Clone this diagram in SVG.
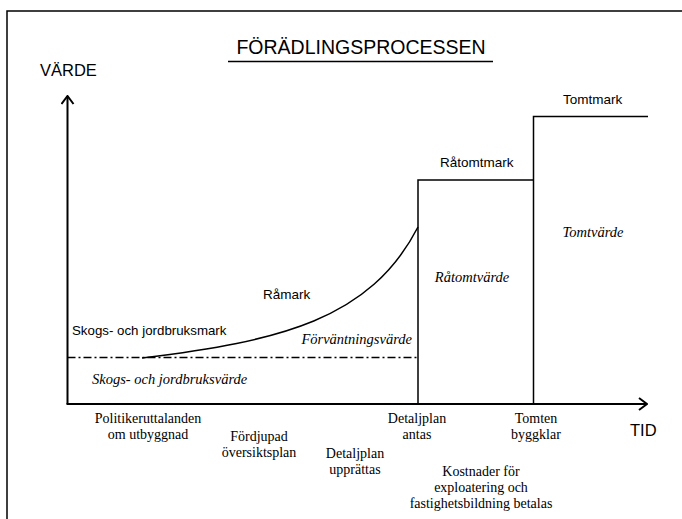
<svg xmlns="http://www.w3.org/2000/svg" width="682" height="519" viewBox="0 0 682 519">
<style>
.ln{fill:none;stroke:#000;stroke-width:1.5}
.ax{fill:none;stroke:#000;stroke-width:2}
.sans{font-family:"Liberation Sans",Arial,sans-serif;fill:#000}
.ser{font-family:"Liberation Serif","Times New Roman",serif;fill:#000;font-size:14px}
.it{font-family:"Liberation Serif","Times New Roman",serif;font-style:italic;fill:#000;font-size:14.5px}
.c{text-anchor:middle}
</style>
<defs>
<marker id="arr" viewBox="0 0 10 14" refX="9" refY="7" markerWidth="10" markerHeight="14" markerUnits="userSpaceOnUse" orient="auto">
<path d="M1,1 L9,7 L1,13" fill="none" stroke="#000" stroke-width="2"/>
</marker>
</defs>
<rect width="682" height="519" fill="#fff"/>
<path class="ln" d="M7,519 V11 H682"/>
<g id="title">
<text class="sans" x="361" y="54" font-size="19.5" text-anchor="middle">FÖRÄDLINGSPROCESSEN</text>
<line x1="228" y1="61.5" x2="493" y2="61.5" stroke="#000" stroke-width="1.5"/>
</g>
<g id="axes">
<path class="ax" d="M67.5,404 V96" marker-end="url(#arr)"/>
<path class="ax" d="M66.5,404 H647" marker-end="url(#arr)"/>
<text class="sans" x="40" y="76" font-size="16.5">VÄRDE</text>
<text class="sans" x="630" y="436" font-size="16.5">TID</text>
</g>
<g id="curves">
<line x1="67.5" y1="357.5" x2="418" y2="357.5" stroke="#000" stroke-width="1.5" stroke-dasharray="8 3 2 3"/>
<path class="ln" d="M142,358 C280,341 370,320 418,227"/>
<path class="ln" d="M418,404 V180 H533.5"/>
<path class="ln" d="M533.5,404 V116.5 H648"/>
</g>
<g id="labels">
<text class="sans" x="72" y="335" font-size="13.3">Skogs- och jordbruksmark</text>
<text class="sans" x="263" y="299" font-size="13.5">Råmark</text>
<text class="sans" x="440" y="167" font-size="13.5">Råtomtmark</text>
<text class="sans" x="563" y="104" font-size="13.5">Tomtmark</text>
<text class="it" x="92" y="384">Skogs- och jordbruksvärde</text>
<text class="it" x="412" y="344" text-anchor="end">Förväntningsvärde</text>
<text class="it" x="472" y="282" text-anchor="middle">Råtomtvärde</text>
<text class="it" x="593" y="237" text-anchor="middle">Tomtvärde</text>
</g>
<g id="events">
<text class="ser c" x="148" y="423">Politikeruttalanden</text>
<text class="ser c" x="148" y="439">om utbyggnad</text>
<text class="ser c" x="259" y="441">Fördjupad</text>
<text class="ser c" x="259" y="457">översiktsplan</text>
<text class="ser c" x="355" y="458">Detaljplan</text>
<text class="ser c" x="355" y="474">upprättas</text>
<text class="ser c" x="417" y="423">Detaljplan</text>
<text class="ser c" x="417" y="439">antas</text>
<text class="ser c" x="536" y="423">Tomten</text>
<text class="ser c" x="536" y="439">byggklar</text>
<text class="ser c" x="481" y="476">Kostnader för</text>
<text class="ser c" x="481" y="492">exploatering och</text>
<text class="ser c" x="481" y="508">fastighetsbildning betalas</text>
</g>
</svg>
